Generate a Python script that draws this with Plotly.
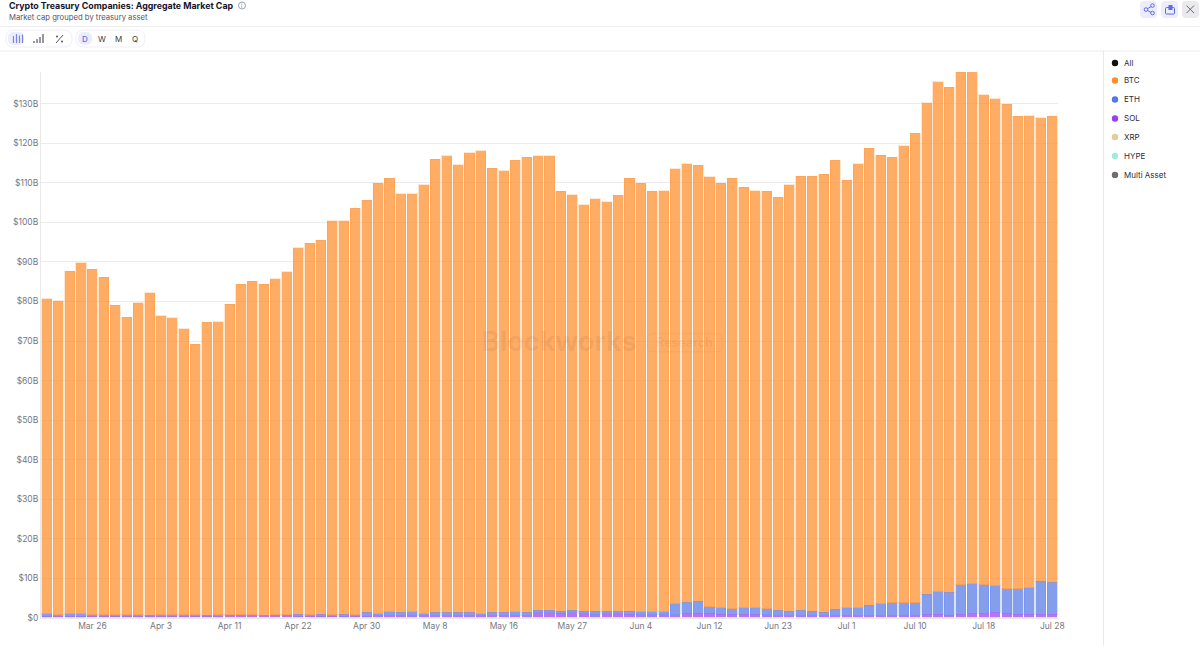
# coding: utf-8

#%%

import plotly.graph_objects as go

W, H = 1200, 646
PLOT_L, PLOT_R, PLOT_T, PLOT_B = 41, 1058, 72, 618.5

dates = [
    "Mar 20", "Mar 21", "Mar 24", "Mar 25", "Mar 26", "Mar 27", "Mar 28", "Mar 31",
    "Apr 1", "Apr 2", "Apr 3", "Apr 4", "Apr 7", "Apr 8", "Apr 9", "Apr 10", "Apr 11",
    "Apr 14", "Apr 15", "Apr 16", "Apr 17", "Apr 21", "Apr 22", "Apr 23", "Apr 24", "Apr 25",
    "Apr 28", "Apr 29", "Apr 30", "May 1", "May 2", "May 5", "May 6", "May 7", "May 8", "May 9",
    "May 12", "May 13", "May 14", "May 15", "May 16", "May 19", "May 20", "May 21", "May 22", "May 23",
    "May 27", "May 28", "May 29", "May 30", "Jun 2", "Jun 3", "Jun 4", "Jun 5", "Jun 6",
    "Jun 9", "Jun 10", "Jun 11", "Jun 12", "Jun 13", "Jun 16", "Jun 17", "Jun 18", "Jun 20",
    "Jun 23", "Jun 24", "Jun 25", "Jun 26", "Jun 27", "Jun 30", "Jul 1", "Jul 2", "Jul 3",
    "Jul 7", "Jul 8", "Jul 9", "Jul 10", "Jul 11", "Jul 14", "Jul 15", "Jul 16", "Jul 17", "Jul 18",
    "Jul 21", "Jul 22", "Jul 23", "Jul 24", "Jul 25", "Jul 28",
]

x_labels = ["Mar 26", "Apr 3", "Apr 11", "Apr 22", "Apr 30", "May 8", "May 16", "May 27",
            "Jun 4", "Jun 12", "Jun 23", "Jul 1", "Jul 10", "Jul 18", "Jul 28"]

y_ticks = [0, 10, 20, 30, 40, 50, 60, 70, 80, 90, 100, 110, 120, 130]
y_labels = ["$0", "$10B", "$20B", "$30B", "$40B", "$50B", "$60B", "$70B", "$80B", "$90B",
            "$100B", "$110B", "$120B", "$130B"]

# market cap per asset, $B
btc = [
    79.6, 79.3, 86.5, 88.7, 87.3, 85.3, 78.2, 75.2, 78.8, 81.5, 75.5, 75.0, 72.3, 68.3, 74.0, 74.0, 78.4,
    83.5, 84.3, 83.7, 84.9, 86.7, 92.7, 93.9, 94.5, 99.5, 99.4, 102.7, 104.2, 108.8, 109.5, 105.8, 105.6,
    108.4, 114.5, 115.4, 113.1, 116.2, 117.0, 112.3, 111.7, 114.1, 115.1, 114.8, 114.8, 106.2, 105.0, 102.7,
    104.3, 103.5, 105.2, 109.5, 108.3, 106.3, 106.4, 109.9, 110.8, 110.2, 108.7, 107.3, 108.8, 106.3, 105.4,
    105.5, 104.4, 107.8, 109.8, 110.0, 110.7, 113.5, 108.0, 112.2, 115.5, 113.4, 112.7, 115.5, 118.7, 124.2,
    128.9, 127.7, 129.5, 129.4, 123.8, 123.1, 122.4, 119.4, 119.3, 117.2, 117.8,
]
eth = [
    .65, .4, .65, .65, .4, .4, .4, .4, .4, .25, .4, .4, .4, .4, .25, .4, .25, .25, .25, .1, .25, .25,
    .5, .45, .6, .45, .6, .45, 1.0, .55, 1.05, .85, 1.05, .55, .85, .85, .85, .85, .55, .85, .85, 1.05, .85,
    .7, .7, .5, .7, .6, .9, .6, .6, .7, .75, .75, .75, 2.75, 2.75, 2.95, 1.55, 1.65, 1.45, 1.65, 1.65, 1.55,
    1.3, 1.1, 1.3, 1.1, .9, 1.6, 2.0, 2.0, 2.6, 3.0, 3.2, 3.2, 3.2, 5.1, 5.7, 5.85, 7.5, 7.45, 7.15, 6.7,
    6.15, 6.5, 6.8, 8.4, 8.1,
]
sol = [
    .1, .1, .1, .1, .1, .1, .1, .1, .1, .1, .1, .1, .1, .1, .1, .1, .25, .25, .25, .25, .25, .25,
    .05, .05, .05, .05, .05, .05, .05, .2, .2, .2, .2, .2, .2, .2, .2, .2, .2, .2, .2, .2, .2,
    .95, .95, .85, .95, .75, .45, .75, .75, .65, .5, .5, .5, .5, .9, .9, .9, .6, .6, .6, .6, .5,
    .25, .25, .25, .25, .25, .25, .25, .25, .25, .25, .25, .25, .25,
    .55, .55, .3, .55, .9, .9, 1.05, .9, .55, .55, .55, .55,
]
xrp = [.1] * 89
hype = [.05] * 89
multi = [.2] * 89

legend_names = ["All", "BTC", "ETH", "SOL", "XRP", "HYPE", "Multi Asset"]
legend_colors = ["#111111", "#FF8F2E", "#5578E6", "#9B3FF5", "#E3CD9A", "#A3EBDD", "#6E6E6E"]

#%%

fig = go.Figure()

# thin layers get no outline, it would swamp them
stack = [("Multi Asset", multi, "rgba(110,110,110,0.2)", 0),
         ("HYPE", hype, "rgba(163,235,221,0.7)", 0),
         ("XRP", xrp, "rgba(227,205,154,0.7)", 0),
         ("SOL", sol, "rgba(155,63,245,0.72)", 0),
         ("ETH", eth, "rgba(85,120,230,0.72)", 1),
         ("BTC", btc, "rgba(255,143,46,0.74)", 1)]

for name, values, color, line_width in stack:
    fig.add_trace(go.Bar(
        x=dates, y=values, name=name,
        marker=dict(color=color, line=dict(color=color.rsplit(",", 1)[0] + ",0.22)", width=line_width)),
    ))


def px(x):
    return (x - PLOT_L) / (PLOT_R - PLOT_L)


def py(y):
    return (PLOT_B - y) / (PLOT_B - PLOT_T)


def text(x, y, s, size=8, color="#3a3a4a", anchor="left", weight=400, opacity=1):
    fig.add_annotation(xref="paper", yref="paper", x=px(x), y=py(y), text=s, showarrow=False,
                       xanchor=anchor, yanchor="middle", opacity=opacity, borderpad=0,
                       font=dict(family="Inter", size=size, color=color, weight=weight))


def rect(x0, y0, x1, y1, r=0, fill="rgba(0,0,0,0)", line=None, width=1):
    path = (f"M {px(x0 + r)} {py(y0)} L {px(x1 - r)} {py(y0)} Q {px(x1)} {py(y0)} {px(x1)} {py(y0 + r)} "
            f"L {px(x1)} {py(y1 - r)} Q {px(x1)} {py(y1)} {px(x1 - r)} {py(y1)} "
            f"L {px(x0 + r)} {py(y1)} Q {px(x0)} {py(y1)} {px(x0)} {py(y1 - r)} "
            f"L {px(x0)} {py(y0 + r)} Q {px(x0)} {py(y0)} {px(x0 + r)} {py(y0)} Z")
    fig.add_shape(type="path", xref="paper", yref="paper", path=path, fillcolor=fill,
                  line=dict(color=line or "rgba(0,0,0,0)", width=width if line else 0))


def seg(x0, y0, x1, y1, color="#5d6be0", width=1):
    fig.add_shape(type="line", xref="paper", yref="paper", x0=px(x0), y0=py(y0), x1=px(x1), y1=py(y1),
                  line=dict(color=color, width=width))


def dot(x, y, r, fill="rgba(0,0,0,0)", line=None, width=1):
    fig.add_shape(type="circle", xref="paper", yref="paper", x0=px(x - r), y0=py(y - r), x1=px(x + r), y1=py(y + r),
                  fillcolor=fill, line=dict(color=line or "rgba(0,0,0,0)", width=width if line else 0))


#%%

# header
text(8, 5.5, "Crypto Treasury Companies: Aggregate Market Cap", size=8.85, color="#14142b", weight=650)
text(8, 17, "Market cap grouped by treasury asset", size=7.7, color="#55556a")
dot(242, 5.5, 3.5, line="#8a8a96", width=0.8)
text(242, 5.5, "i", size=6, color="#8a8a96", anchor="center")

seg(0, 26.5, W, 26.5, "#eeeeee", 1)
seg(0, 51, W, 51, "#eeeeee", 1)
seg(1103.5, 51, 1103.5, H, "#e8e8e8", 1)

# toolbar
rect(6, 30, 72, 47, 8, line="#f0f0f8")
rect(76, 30, 145, 47, 8, line="#f0f0f8")
rect(8, 32, 24, 45, 6, fill="#ecedfb")
rect(78, 32, 92, 45, 6, fill="#ecedfb")
for xb, top in zip([13.5, 16.5, 19.5, 22.5], [36, 34, 35.5, 34.5]):
    seg(xb, top, xb, 43, "#7c86e0", 1.2)
for xb, top in zip([34, 37, 40, 43], [41, 39, 37, 34]):
    seg(xb, top, xb, 43, "#55556a", 1.2)
seg(56, 43, 63, 35, "#55556a", 1)
dot(57, 36.5, 1, fill="#55556a")
dot(62, 41.5, 1, fill="#55556a")
text(85, 39, "D", size=8, color="#5d6be0", anchor="center", weight=500)
text(101.5, 39, "W", size=8, color="#3a3a4a", anchor="center")
text(118, 39, "M", size=8, color="#3a3a4a", anchor="center")
text(134.5, 39, "Q", size=8, color="#3a3a4a", anchor="center")

# top right buttons
rect(1140, 1, 1157, 18, 4, fill="#ecedfc")
rect(1161, 1, 1178, 18, 4, fill="#ecedfc")
rect(1182, 1, 1199, 18, 4, fill="#e9e9ee")
seg(1146, 9.5, 1152, 6, "#5d6be0", 1)
seg(1146, 9.5, 1152, 13, "#5d6be0", 1)
dot(1146, 9.5, 1.8, fill="#ecedfc", line="#5d6be0")
dot(1152.5, 5.5, 1.8, fill="#ecedfc", line="#5d6be0")
dot(1152.5, 13, 1.8, fill="#ecedfc", line="#5d6be0")
rect(1165.5, 7.5, 1174.5, 14, 1, line="#5d6be0")
rect(1168.5, 5, 1172.5, 10, 0.5, fill="#5d6be0")
seg(1186.5, 5.5, 1194, 13, "#6a6a76", 1)
seg(1194, 5.5, 1186.5, 13, "#6a6a76", 1)

# legend
legend_y = [63, 80.5, 99.5, 118.5, 137, 156, 175]
for name, color, y in zip(legend_names, legend_colors, legend_y):
    dot(1115, y, 3.2, fill=color)
    text(1122.5, y, name, size=8, color="#2c2c38")

# watermark
text(559, 342, "Blockworks", size=27, color="rgba(110,85,60,0.09)", anchor="center", weight=700)
rect(647, 334, 722, 352, 5, line="rgba(110,85,60,0.06)")
text(684, 343, "Research", size=12.5, color="rgba(110,85,60,0.09)", anchor="center", weight=600)

fig.update_layout(
    barmode="stack",
    bargap=0.12,
    width=W,
    height=H,
    autosize=False,
    showlegend=False,
    paper_bgcolor="white",
    plot_bgcolor="white",
    margin=dict(l=PLOT_L, r=W - PLOT_R, t=PLOT_T, b=H - PLOT_B, pad=0),
    font=dict(family="Inter", size=8.5, color="#77777f"),
    xaxis=dict(
        type="category", categoryorder="array", categoryarray=dates,
        tickmode="array", tickvals=x_labels, ticktext=x_labels,
        range=[-0.5, len(dates) - 0.5],
        showgrid=False, zeroline=False, ticks="", ticklen=0,
        showline=True, linecolor="#e8e8e8", linewidth=1,
        tickfont=dict(size=8.5, color="#77777f"),
    ),
    yaxis=dict(
        range=[0, 138],
        tickmode="array", tickvals=y_ticks, ticktext=y_labels,
        showgrid=True, gridcolor="#ececec", gridwidth=1,
        zeroline=False, ticks="", ticklen=0,
        showline=True, linecolor="#e8e8e8", linewidth=1,
        tickfont=dict(size=8.5, color="#77777f"),
    ),
)

fig.write_html("out.html", config={"displayModeBar": False}, post_script="document.body.style.margin = '0';")
